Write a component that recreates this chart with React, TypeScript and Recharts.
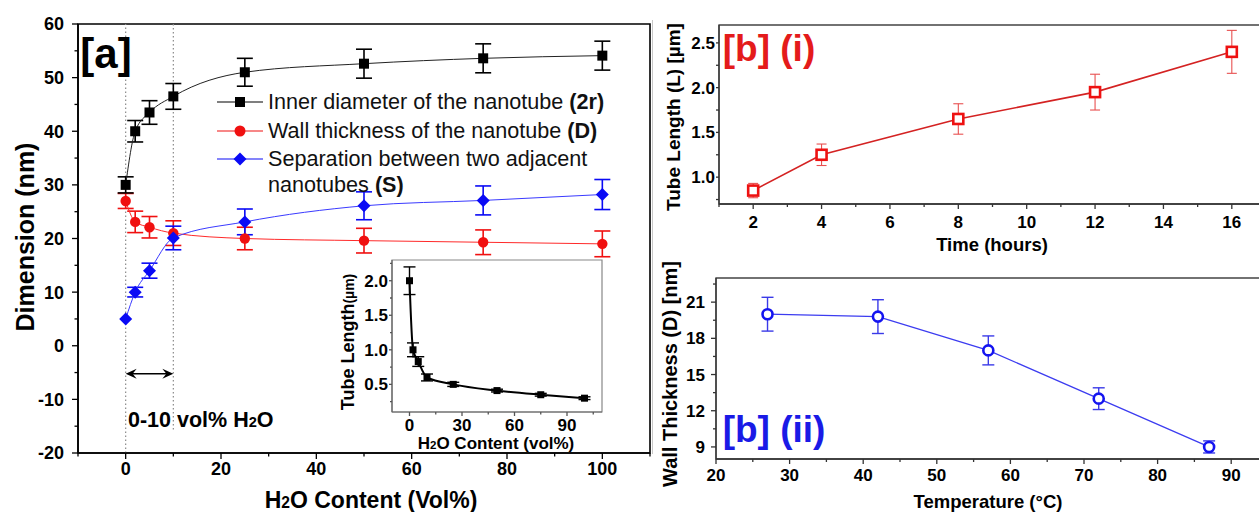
import React from "react"
import { LineChart, Line, XAxis, YAxis, ErrorBar, ReferenceLine, ReferenceArea } from "recharts"

const FONT = '"Liberation Sans", Arial, sans-serif'

// [a] dimensions vs water content
const waterPct = [0, 2, 5, 10, 25, 50, 75, 100]
const innerDiam = [30, 40, 43.5, 46.5, 51, 52.6, 53.6, 54.1]
const innerDiamErr = [1.5, 2, 2.2, 2.4, 2.6, 2.7, 2.7, 2.7]
const wallThick = [27, 23.1, 22.1, 21, 20, 19.6, 19.3, 19]
const wallThickErr = [1.4, 2, 2, 2.3, 2.1, 2.3, 2.3, 2.4]
const separation = [5, 10, 14, 20.1, 23.1, 26.1, 27.1, 28.2]
const separationErr = [0, 0.9, 1.4, 2.2, 2.4, 2.6, 2.7, 2.8]
const seriesNames = ["Inner diameter of the nanotube ", "Wall thickness of the nanotube ", "Separation between two adjacent", "nanotubes "]
const seriesTags = ["(2r)", "(D)", "(S)"]

// inset: tube length vs water content
const insetLength = [2.0, 1.0, 0.83, 0.6, 0.5, 0.41, 0.35, 0.3]
const insetLengthErr = [0.2, 0.1, 0.07, 0.05, 0.03, 0.02, 0.02, 0.02]

// [b](i) tube length vs time
const hours = [2, 4, 8, 12, 16]
const tubeLength = [0.85, 1.25, 1.65, 1.95, 2.4]
const tubeLengthErr = [0.08, 0.12, 0.17, 0.2, 0.24]

// [b](ii) wall thickness vs temperature
const tempC = [27, 42, 57, 72, 87]
const wallD = [20, 19.8, 17, 13, 9]
const wallDErr = [1.4, 1.4, 1.2, 0.9, 0.5]

// ticks
const aXMajor = [0, 20, 40, 60, 80, 100]
const aXMinor = [-10, 10, 30, 50, 70, 90, 110]
const aYMajor = [-20, -10, 0, 10, 20, 30, 40, 50, 60]
const aYMinor = [-15, -5, 5, 15, 25, 35, 45, 55]
const inXMajor = [0, 30, 60, 90]
const inXMinor = [15, 45, 75, 105]
const inYMajor = [0.5, 1.0, 1.5, 2.0]
const inYMinor = [0.25, 0.75, 1.25, 1.75, 2.25]
const b1XMajor = [2, 4, 6, 8, 10, 12, 14, 16]
const b1XMinor = [1, 3, 5, 7, 9, 11, 13, 15, 17]
const b1YMajor = [1.0, 1.5, 2.0, 2.5]
const b1YMinor = [0.75, 1.25, 1.75, 2.25]
const b2XMajor = [20, 30, 40, 50, 60, 70, 80, 90]
const b2XMinor = [25, 35, 45, 55, 65, 75, 85, 95]
const b2YMajor = [9, 12, 15, 18, 21]
const b2YMinor = [10.5, 13.5, 16.5, 19.5, 22.5]

const dataA = waterPct.map((x, i) => ({
  x,
  inner: innerDiam[i], innerErr: innerDiamErr[i],
  wall: wallThick[i], wallErr: wallThickErr[i],
  sep: separation[i], sepErr: separationErr[i],
  len: insetLength[i], lenErr: insetLengthErr[i],
}))
const dataB1 = hours.map((x, i) => ({ x, y: tubeLength[i], err: tubeLengthErr[i] }))
const dataB2 = tempC.map((x, i) => ({ x, y: wallD[i], err: wallDErr[i] }))

type TickOpts = {
  side: "x" | "y"
  majors: number[]
  size: number
  margin: number
  major: number
  minor: number
  font: number
  fmt: (v: number) => string
  color: string
}

const makeTick = (o: TickOpts) => (p: any) => {
  const v = Number(p.payload.value)
  const isMajor = o.majors.some((m) => Math.abs(m - v) < 1e-6)
  const len = isMajor ? o.major : o.minor
  if (o.side === "x") {
    const base = p.y - o.size - o.margin
    return (
      <g key={`x${p.index}`}>
        <line x1={p.x} x2={p.x} y1={base} y2={base + len} stroke={o.color} strokeWidth={1.3} />
        {isMajor && (
          <text x={p.x} y={p.y} dy="0.71em" textAnchor="middle" fontSize={o.font} fontWeight="bold" fontFamily={FONT} fill="#000">
            {o.fmt(v)}
          </text>
        )}
      </g>
    )
  }
  const base = p.x + o.size + o.margin
  return (
    <g key={`y${p.index}`}>
      <line x1={base - len} x2={base} y1={p.y} y2={p.y} stroke={o.color} strokeWidth={1.3} />
      {isMajor && (
        <text x={p.x} y={p.y} dy="0.355em" textAnchor="end" fontSize={o.font} fontWeight="bold" fontFamily={FONT} fill="#000">
          {o.fmt(v)}
        </text>
      )}
    </g>
  )
}

const square = (s: number, fill: string, stroke: string, sw: number) => (p: any) =>
  <rect key={`s${p.index}`} x={p.cx - s / 2} y={p.cy - s / 2} width={s} height={s} fill={fill} stroke={stroke} strokeWidth={sw} />
const circle = (r: number, fill: string, stroke: string, sw: number) => (p: any) =>
  <circle key={`c${p.index}`} cx={p.cx} cy={p.cy} r={r} fill={fill} stroke={stroke} strokeWidth={sw} />
const diamond = (r: number, fill: string) => (p: any) =>
  <path key={`d${p.index}`} d={`M${p.cx},${p.cy - r}L${p.cx + r},${p.cy}L${p.cx},${p.cy + r}L${p.cx - r},${p.cy}Z`} fill={fill} />

const DoubleArrow = (p: any) => {
  const { x1, y1, x2 } = p
  return (
    <g>
      <line x1={x1 + 3} y1={y1} x2={x2 - 3} y2={y1} stroke="#000" strokeWidth={1.5} />
      <path d={`M${x1},${y1}L${x1 + 11},${y1 - 5}L${x1 + 7},${y1}L${x1 + 11},${y1 + 5}Z`} fill="#000" />
      <path d={`M${x2},${y1}L${x2 - 11},${y1 - 5}L${x2 - 7},${y1}L${x2 - 11},${y1 + 5}Z`} fill="#000" />
    </g>
  )
}

function Txt(props: { x: number; y: number; size: number; color?: string; weight?: string; rotate?: boolean; left?: boolean; children: React.ReactNode }) {
  const { x, y, size, color = "#000", weight = "bold", rotate, left, children } = props
  return (
    <div
      style={{
        position: "absolute",
        left: x,
        top: y,
        transform: left ? "translate(0,-50%)" : `translate(-50%,-50%)${rotate ? " rotate(-90deg)" : ""}`,
        fontFamily: FONT,
        fontSize: size,
        fontWeight: weight as any,
        color,
        whiteSpace: "nowrap",
        lineHeight: 1,
      }}
    >
      {children}
    </div>
  )
}

const Sub2 = () => <span style={{ fontSize: "0.68em" }}>2</span>

function LegendMark({ kind, color }: { kind: string; color: string }) {
  return (
    <svg width={46} height={20} style={{ position: "absolute", left: 0, top: 4 }}>
      <line x1={0} x2={46} y1={10} y2={10} stroke={color} strokeWidth={1.2} />
      {kind === "square" && <rect x={18} y={5} width={10} height={10} fill={color} />}
      {kind === "circle" && <circle cx={23} cy={10} r={5.5} fill={color} />}
      {kind === "diamond" && <path d="M23,3.5L29.5,10L23,16.5L16.5,10Z" fill={color} />}
    </svg>
  )
}

function LegendA() {
  const rows = [
    { top: 88, kind: "square", color: "#000", text: seriesNames[0], tag: seriesTags[0] },
    { top: 117, kind: "circle", color: "#f01010", text: seriesNames[1], tag: seriesTags[1] },
    { top: 145, kind: "diamond", color: "#0a0af5", text: seriesNames[2], tag: "" },
  ]
  const txt = { position: "absolute" as const, left: 51, fontFamily: FONT, fontSize: 21.6, lineHeight: "26px", whiteSpace: "nowrap" as const, color: "#111" }
  return (
    <div style={{ position: "absolute", left: 217, top: 0 }}>
      {rows.map((r) => (
        <div key={r.kind} style={{ position: "absolute", left: 0, top: r.top, width: 420, height: 28 }}>
          <LegendMark kind={r.kind} color={r.color} />
          <div style={{ ...txt, top: 1 }}>
            {r.text}
            {r.tag && <b>{r.tag}</b>}
          </div>
        </div>
      ))}
      <div style={{ ...txt, top: 172 }}>
        {seriesNames[3]}
        <b>{seriesTags[2]}</b>
      </div>
    </div>
  )
}

export default function App() {
  return (
    <div style={{ position: "absolute", left: 0, top: 0, width: 1259, height: 512, overflow: "hidden", background: "#fff" }}>
      {/* panel [a] */}
      <div style={{ position: "absolute", left: 0, top: 0 }}>
        <LineChart width={662} height={512} data={dataA} margin={{ top: 24, right: 12, left: 0, bottom: 0 }}>
          <XAxis
            dataKey="x" type="number" domain={[-10, 110]} ticks={[...aXMajor, ...aXMinor]} interval={0}
            height={59} tickSize={6} tickMargin={3} tickLine={false}
            axisLine={{ stroke: "#000", strokeWidth: 1.6 }}
            tick={makeTick({ side: "x", majors: aXMajor, size: 6, margin: 3, major: 6, minor: 3.5, font: 18, fmt: String, color: "#000" })}
          />
          <YAxis
            type="number" domain={[-20, 60]} ticks={[...aYMajor, ...aYMinor]} interval={0}
            width={78} tickSize={6} tickMargin={8} tickLine={false}
            axisLine={{ stroke: "#000", strokeWidth: 1.6 }}
            tick={makeTick({ side: "y", majors: aYMajor, size: 6, margin: 8, major: 6, minor: 3.5, font: 18, fmt: String, color: "#000" })}
          />
          <ReferenceArea x1={-10} x2={110} y1={-20} y2={60} fill="none" stroke="#000" strokeWidth={1.6} />
          <ReferenceLine x={0} stroke="#8a8a8a" strokeDasharray="1.5 2.5" strokeWidth={1.2} />
          <ReferenceLine segment={[{ x: 10, y: 60 }, { x: 10, y: -16 }]} stroke="#8a8a8a" strokeDasharray="1.5 2.5" strokeWidth={1.2} />
          <ReferenceLine segment={[{ x: 0, y: -5.2 }, { x: 10, y: -5.2 }]} shape={DoubleArrow} />
          <Line type="monotone" dataKey="wall" stroke="#ff2a2a" strokeWidth={1} dot={circle(5.2, "#f01010", "none", 0)} isAnimationActive={false}>
            <ErrorBar dataKey="wallErr" width={8} stroke="#f01010" strokeWidth={1.6} direction="y" isAnimationActive={false} />
          </Line>
          <Line type="monotone" dataKey="sep" stroke="#3a3aff" strokeWidth={1} dot={diamond(6.5, "#0a0af5")} isAnimationActive={false}>
            <ErrorBar dataKey="sepErr" width={8} stroke="#0a0af5" strokeWidth={1.6} direction="y" isAnimationActive={false} />
          </Line>
          <Line type="monotone" dataKey="inner" stroke="#222" strokeWidth={1} dot={square(10, "#000", "none", 0)} isAnimationActive={false}>
            <ErrorBar dataKey="innerErr" width={8} stroke="#000" strokeWidth={1.6} direction="y" isAnimationActive={false} />
          </Line>
        </LineChart>
      </div>
      <Txt x={106} y={54} size={42}>[a]</Txt>
      <LegendA />
      <Txt x={128} y={421} size={21.5} left>0-10 vol% H<Sub2 />O</Txt>
      <Txt x={25} y={237} size={25} rotate>Dimension (nm)</Txt>
      <Txt x={371} y={500} size={23}>H<Sub2 />O Content (Vol%)</Txt>

      {/* inset */}
      <div style={{ position: "absolute", left: 330, top: 250 }}>
        <LineChart width={282} height={190} data={dataA} margin={{ top: 10, right: 10, left: 0, bottom: 0 }}>
          <XAxis
            dataKey="x" type="number" domain={[-10, 110]} ticks={[...inXMajor, ...inXMinor]} interval={0}
            height={28} tickSize={4} tickMargin={3} tickLine={false}
            axisLine={{ stroke: "#666", strokeWidth: 1.2 }}
            tick={makeTick({ side: "x", majors: inXMajor, size: 4, margin: 3, major: 4, minor: 2.5, font: 17, fmt: String, color: "#555" })}
          />
          <YAxis
            type="number" domain={[0.1, 2.3]} ticks={[...inYMajor, ...inYMinor]} interval={0}
            width={62} tickSize={3} tickMargin={1} tickLine={false}
            axisLine={{ stroke: "#666", strokeWidth: 1.2 }}
            tick={makeTick({ side: "y", majors: inYMajor, size: 3, margin: 1, major: 3, minor: 2, font: 17, fmt: (v) => v.toFixed(1), color: "#555" })}
          />
          <ReferenceArea x1={-10} x2={110} y1={0.1} y2={2.3} fill="none" stroke="#888" strokeWidth={1.2} />
          <Line type="monotone" dataKey="len" stroke="#000" strokeWidth={2} dot={square(7, "#000", "none", 0)} isAnimationActive={false}>
            <ErrorBar dataKey="lenErr" width={6} stroke="#000" strokeWidth={1.4} direction="y" isAnimationActive={false} />
          </Line>
        </LineChart>
      </div>
      <Txt x={348} y={342} size={18} rotate>Tube Length<span style={{ fontSize: 14 }}>(µm)</span></Txt>
      <Txt x={496} y={443} size={17}>H<Sub2 />O Content (vol%)</Txt>

      {/* separator */}
      <div style={{ position: "absolute", left: 652, top: 20, width: 1, height: 434, background: "#c8c8c8" }} />

      {/* panel [b](i) */}
      <div style={{ position: "absolute", left: 650, top: 0 }}>
        <LineChart width={616} height={234} data={dataB1} margin={{ top: 25, right: 0, left: 0, bottom: 0 }}>
          <XAxis
            dataKey="x" type="number" domain={[1, 17]} ticks={[...b1XMajor, ...b1XMinor]} interval={0}
            height={30} tickSize={5} tickMargin={7} tickLine={false}
            axisLine={{ stroke: "#333", strokeWidth: 1.3 }}
            tick={makeTick({ side: "x", majors: b1XMajor, size: 5, margin: 7, major: 5, minor: 3, font: 17, fmt: String, color: "#333" })}
          />
          <YAxis
            type="number" domain={[0.7, 2.7]} ticks={[...b1YMajor, ...b1YMinor]} interval={0}
            width={69} tickSize={3} tickMargin={1} tickLine={false}
            axisLine={{ stroke: "#333", strokeWidth: 1.3 }}
            tick={makeTick({ side: "y", majors: b1YMajor, size: 3, margin: 1, major: 3, minor: 3, font: 17, fmt: (v) => v.toFixed(1), color: "#333" })}
          />
          <ReferenceArea x1={1} x2={17} y1={0.7} y2={2.7} fill="none" stroke="#444" strokeWidth={1.3} />
          <Line type="linear" dataKey="y" stroke="#d42222" strokeWidth={1.6} dot={square(10, "#fff", "#ee1111", 2.6)} isAnimationActive={false}>
            <ErrorBar dataKey="err" width={5} stroke="#e85050" strokeWidth={1.1} direction="y" isAnimationActive={false} />
          </Line>
        </LineChart>
      </div>
      <Txt x={769} y={48} size={37} color="#e41b1b">[b] (i)</Txt>
      <Txt x={673} y={117} size={19} rotate>Tube Length (L) [µm]</Txt>
      <Txt x={992} y={245} size={18.5}>Time (hours)</Txt>

      {/* panel [b](ii) */}
      <div style={{ position: "absolute", left: 650, top: 250 }}>
        <LineChart width={618} height={239} data={dataB2} margin={{ top: 28, right: 0, left: 0, bottom: 0 }}>
          <XAxis
            dataKey="x" type="number" domain={[20, 95]} ticks={[...b2XMajor, ...b2XMinor]} interval={0}
            height={30} tickSize={5} tickMargin={5} tickLine={false}
            axisLine={{ stroke: "#333", strokeWidth: 1.3 }}
            tick={makeTick({ side: "x", majors: b2XMajor, size: 5, margin: 5, major: 5, minor: 3, font: 17, fmt: String, color: "#333" })}
          />
          <YAxis
            type="number" domain={[8, 23]} ticks={[...b2YMajor, ...b2YMinor]} interval={0}
            width={66} tickSize={5} tickMargin={6} tickLine={false}
            axisLine={{ stroke: "#333", strokeWidth: 1.3 }}
            tick={makeTick({ side: "y", majors: b2YMajor, size: 5, margin: 6, major: 5, minor: 3, font: 17, fmt: String, color: "#333" })}
          />
          <ReferenceArea x1={20} x2={95} y1={8} y2={23} fill="none" stroke="#444" strokeWidth={1.3} />
          <Line type="linear" dataKey="y" stroke="#3c3cf0" strokeWidth={1.3} dot={circle(5, "#fff", "#1414f0", 2.6)} isAnimationActive={false}>
            <ErrorBar dataKey="err" width={6} stroke="#3a3ae8" strokeWidth={1.4} direction="y" isAnimationActive={false} />
          </Line>
        </LineChart>
      </div>
      <Txt x={774} y={429} size={37} color="#1a1ae6">[b] (ii)</Txt>
      <Txt x={670} y={374} size={20} rotate>Wall Thickness (D) [nm]</Txt>
      <Txt x={988} y={502} size={18.5}>Temperature (°C)</Txt>
    </div>
  )
}
